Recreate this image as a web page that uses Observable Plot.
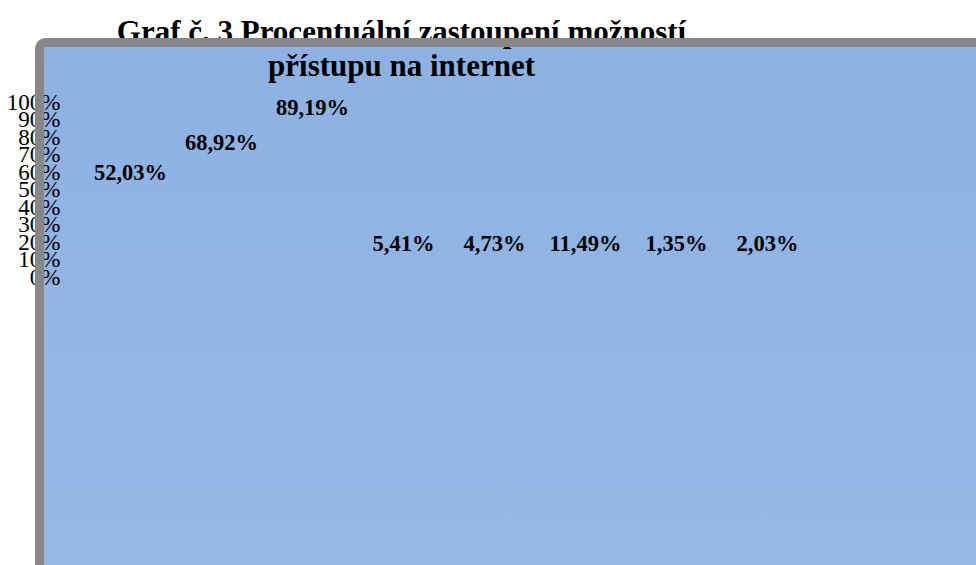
<!DOCTYPE html>
<html><head><meta charset="utf-8">
<script src="https://cdn.jsdelivr.net/npm/d3@7"></script>
<script src="https://cdn.jsdelivr.net/npm/@observablehq/plot@0.6"></script>
<style>body{margin:0;background:#fff;}</style>
</head><body><div id="chart"></div>
<script>
const titleLines = ["Graf č. 3 Procentuální zastoupení možností", "přístupu na internet"];
const categories = ["1", "2", "3", "4", "5", "6", "7", "8"];
const values = [52.03, 68.92, 89.19, 5.41, 4.73, 11.49, 1.35, 2.03];
const valueLabels = ["52,03%", "68,92%", "89,19%", "5,41%", "4,73%", "11,49%", "1,35%", "2,03%"];
const yTicks = [0, 10, 20, 30, 40, 50, 60, 70, 80, 90, 100];

const data = categories.map((c, i) => ({category: c, value: values[i], label: valueLabels[i]}));
const serif = "'Liberation Serif', 'Times New Roman', 'DejaVu Serif', serif";

function gradientDefs() {
  const ns = "http://www.w3.org/2000/svg";
  const defs = document.createElementNS(ns, "defs");
  defs.innerHTML = '<linearGradient id="bgGrad" x1="0" y1="0" x2="0" y2="1">' +
    '<stop offset="0" stop-color="#8DB1E2"/><stop offset="1" stop-color="#97B9E6"/></linearGradient>';
  return defs;
}

const chart = Plot.plot({
  width: 976,
  height: 565,
  marginLeft: 39,
  marginTop: 42,
  marginRight: -20,
  marginBottom: -20,
  style: {fontFamily: serif, fontSize: "23px", background: "transparent", color: "#000", overflow: "hidden"},
  x: {type: "band", domain: categories, range: [79, 817], axis: null},
  y: {domain: [0, 100], range: [277, 102], axis: null},
  marks: [
    gradientDefs,
    Plot.frame({fill: "url(#bgGrad)", rx: 6}),
    Plot.axisY(yTicks, {anchor: "left", tickSize: 0, tickPadding: 0, dx: 21, tickFormat: d => d + "%", fontSize: 23, fill: "#000"}),
    Plot.text([titleLines.join("\n")], {frameAnchor: "top-left", dx: 362, dy: -25, textAnchor: "middle", lineAnchor: "top", lineHeight: 1.11, fontSize: 31, fontWeight: "bold", fill: "#000"}),
    Plot.text(data, {x: "category", y: d => Math.max(d.value, 11.5), text: "label", dy: -14, fontSize: 22.5, fontWeight: "bold", fill: "#000"}),
    Plot.frame({stroke: "#878787", strokeWidth: 9, rx: 6})
  ]
});
document.getElementById("chart").appendChild(chart);
</script>
</body></html>
